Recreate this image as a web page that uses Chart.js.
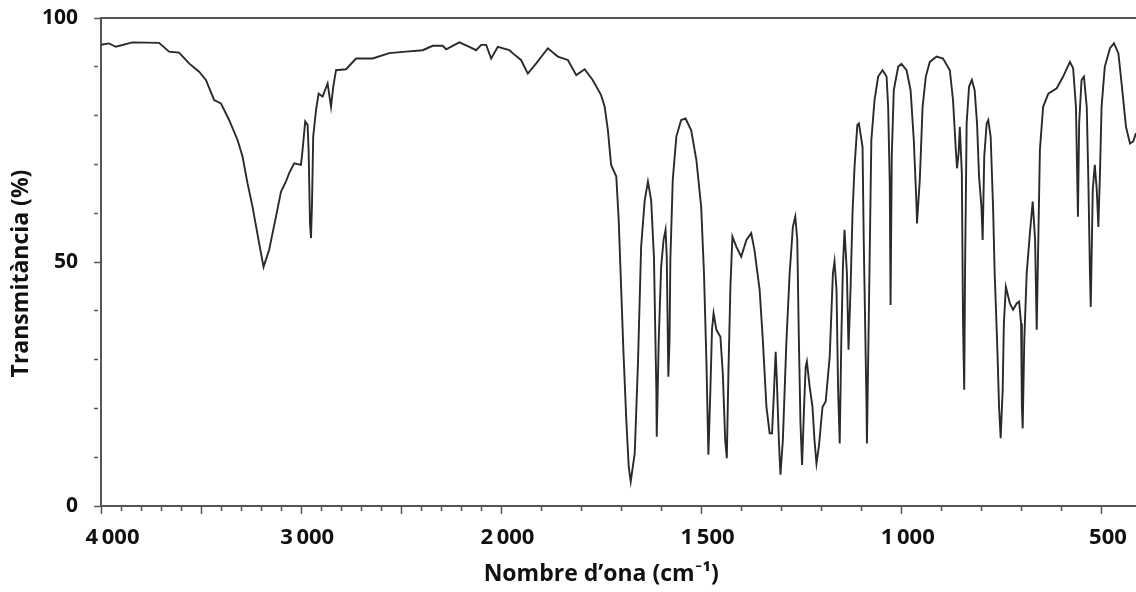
<!DOCTYPE html>
<html>
<head>
<meta charset="utf-8">
<script src="https://cdn.jsdelivr.net/npm/chart.js@4.4.1/dist/chart.umd.min.js"></script>
<style>
  html, body { margin: 0; padding: 0; background: #fff; }
  #irChart { display: block; }
</style>
</head>
<body>
<canvas id="irChart" width="1136" height="592"></canvas>
<script>
// IR spectrum: wavenumber (cm-1) and transmittance (%)
var wavenumbers = [
  4000, 3960, 3926, 3843, 3710, 3660, 3610, 3560, 3510, 3476, 3435, 3401, 3360, 3318, 3293, 3268,
  3243, 3210, 3188, 3160, 3126, 3101, 3076, 3060, 3035, 3001, 2993, 2980, 2968, 2963, 2956, 2951,
  2946, 2940, 2926, 2913, 2893, 2868, 2851, 2840, 2826, 2776, 2726, 2643, 2560, 2476, 2393, 2343,
  2293, 2276, 2210, 2160, 2126, 2101, 2076, 2051, 2018, 1980, 1972, 1951, 1934, 1913, 1884, 1859,
  1834, 1813, 1792, 1772, 1751, 1742, 1734, 1726, 1713, 1707, 1701, 1695, 1688, 1682, 1677, 1667,
  1659, 1651, 1642, 1634, 1626, 1619, 1613, 1612, 1607, 1601, 1595, 1590, 1587, 1583, 1580, 1578,
  1572, 1563, 1551, 1540, 1526, 1513, 1501, 1494, 1488, 1483, 1478, 1474, 1470, 1463, 1453, 1447,
  1441, 1437, 1433, 1428, 1423, 1413, 1401, 1388, 1376, 1368, 1355, 1347, 1338, 1330, 1324, 1319,
  1315, 1312, 1307, 1303, 1297, 1288, 1280, 1272, 1266, 1261, 1257, 1253, 1249, 1244, 1240, 1237,
  1230, 1223, 1218, 1213, 1207, 1198, 1190, 1180, 1172, 1168, 1163, 1159, 1155, 1151, 1147, 1143,
  1137, 1133, 1128, 1123, 1118, 1111, 1107, 1098, 1095, 1088, 1087, 1082, 1076, 1068, 1059, 1048,
  1038, 1034, 1030, 1028, 1025, 1020, 1009, 1001, 988, 978, 970, 963, 962, 955, 948, 940,
  930, 913, 897, 880, 872, 865, 862, 858, 855, 850, 847, 844, 842, 838, 832, 825,
  818, 812, 807, 801, 798, 794, 788, 784, 778, 772, 768, 762, 757, 753, 748, 745,
  740, 730, 722, 713, 707, 702, 700, 698, 694, 688, 680, 673, 667, 663, 659, 655,
  647, 634, 613, 597, 580, 572, 565, 560, 557, 551, 545, 538, 534, 530, 528, 523,
  518, 513, 509, 505, 501, 493, 480, 470, 459, 451, 440, 430, 422, 415
];
var transmittance = [
  94.5, 94.8, 94.1, 95.0, 94.9, 93.1, 92.9, 90.7, 89.0, 87.3, 83.2, 82.5, 79.1, 75.0, 71.6, 66.1,
  61.3, 53.8, 49.0, 52.5, 59.3, 64.4, 66.5, 68.2, 70.2, 69.9, 73.0, 78.8, 78.1, 73.0, 57.9, 54.9,
  62.0, 75.7, 81.1, 84.5, 83.9, 86.6, 81.8, 85.9, 89.3, 89.5, 91.7, 91.7, 92.8, 93.1, 93.4, 94.3,
  94.3, 93.6, 95.0, 94.1, 93.4, 94.5, 94.5, 91.7, 94.1, 93.4, 92.8, 91.4, 88.6, 90.7, 93.8, 92.1,
  91.4, 88.3, 89.5, 87.3, 84.2, 81.8, 77.0, 69.9, 67.5, 58.6, 44.9, 31.3, 17.6, 8.1, 5.0, 10.8,
  29.0, 53.1, 62.7, 66.5, 62.7, 51.1, 23.8, 14.2, 34.0, 49.0, 54.5, 56.6, 51.1, 26.5, 34.0, 50.4,
  66.8, 75.7, 79.1, 79.4, 77.0, 70.9, 61.3, 47.7, 29.9, 10.5, 23.8, 36.1, 39.5, 36.1, 34.7, 27.2,
  13.5, 9.8, 27.2, 44.9, 55.2, 53.1, 51.1, 54.5, 55.9, 52.5, 44.3, 34.0, 20.3, 14.9, 14.9, 23.8,
  31.6, 25.8, 13.5, 6.4, 13.5, 34.0, 47.7, 57.2, 59.3, 54.5, 34.0, 17.0, 8.4, 20.3, 28.5, 29.6,
  24.4, 20.3, 13.5, 8.7, 12.2, 20.3, 21.4, 30.6, 47.7, 50.1, 44.3, 23.8, 12.8, 34.0, 49.0, 56.6,
  47.7, 32.0, 44.3, 60.0, 69.5, 78.1, 78.4, 73.6, 54.5, 20.3, 12.8, 40.8, 75.0, 83.2, 88.0, 89.3,
  88.0, 81.8, 66.1, 41.2, 71.6, 85.2, 90.0, 90.6, 89.3, 85.2, 75.0, 61.3, 57.9, 66.8, 81.8, 88.0,
  91.0, 92.1, 91.7, 89.3, 83.2, 73.0, 69.2, 72.3, 77.7, 68.2, 37.4, 23.8, 47.7, 78.4, 85.9, 87.3,
  85.2, 78.4, 67.5, 61.3, 54.5, 71.6, 78.4, 79.1, 75.7, 61.3, 47.7, 34.0, 20.3, 13.9, 23.8, 37.4,
  44.9, 41.5, 40.2, 41.5, 41.9, 37.4, 20.3, 15.9, 34.0, 47.7, 55.9, 62.4, 54.5, 36.1, 54.5, 73.0,
  81.8, 84.5, 85.6, 88.0, 91.0, 89.7, 81.8, 59.3, 78.4, 87.3, 88.0, 81.8, 66.8, 47.7, 40.8, 64.8,
  69.9, 64.8, 57.2, 68.2, 81.8, 90.0, 93.8, 94.8, 92.8, 86.6, 77.7, 74.3, 74.7, 76.4
];

// tick marks every 100 cm-1, labels only on these
var xTickWn = [];
for (var w = 4000; w >= 500; w -= 100) xTickWn.push(w);
var xLabelWn = [4000, 3000, 2000, 1500, 1000, 500];
var xLabelText = ["\u20024\u2009000", "3\u2009000", "2\u2009000", "1\u2009500", "1\u2009000", "500"];

var yTickVals = [0, 10, 20, 30, 40, 50, 60, 70, 80, 90, 100];
var yLabelVals = [0, 50, 100];

var xEnd = 415;

// the axis is split at 2000 cm-1: above it 100 cm-1 takes half the width
function axisPos(wn) {
  return wn >= 2000 ? (4000 - wn) / 2 : 1000 + (2000 - wn);
}

var points = wavenumbers.map(function (wn, i) {
  return { x: axisPos(wn), y: transmittance[i] };
});

var axisColor = "#555";
var textColor = "#111";
var fontFamily = "'Open Sans', Lato, sans-serif";

new Chart(document.getElementById("irChart").getContext("2d"), {
  type: "line",
  data: {
    datasets: [
      {
        label: "Transmitància",
        data: points,
        borderColor: "#2a2a2a",
        borderWidth: 1.9,
        pointRadius: 0,
        tension: 0,
        fill: false,
      },
    ],
  },
  options: {
    responsive: false,
    animation: false,
    devicePixelRatio: 1,
    layout: { padding: { top: 18, right: 0, left: 0, bottom: 0 } },
    plugins: { legend: { display: false }, tooltip: { enabled: false } },
    scales: {
      x: {
        type: "linear",
        position: "bottom",
        min: 0,
        max: axisPos(xEnd),
        afterBuildTicks: function (scale) {
          scale.ticks = xTickWn.map(function (wn) { return { value: axisPos(wn) }; });
        },
        afterFit: function (scale) {
          scale.height = 86;
          scale.paddingLeft = 0;
          scale.paddingRight = 0;
        },
        border: { display: true, color: axisColor, width: 2 },
        grid: {
          drawOnChartArea: false,
          drawTicks: true,
          tickLength: 8,
          tickColor: axisColor,
          tickWidth: 1.5,
          tickBorderDash: function (ctx) {
            var wn = xTickWn[ctx.index];
            return wn % 500 === 0 ? [] : [4, 20];
          },
        },
        ticks: {
          autoSkip: false,
          maxRotation: 0,
          padding: 11,
          labelOffset: 6,
          color: textColor,
          font: { family: fontFamily, size: 22, weight: "bold" },
          callback: function (value, index) {
            var k = xLabelWn.indexOf(xTickWn[index]);
            return k >= 0 ? xLabelText[k] : "";
          },
        },
        title: {
          display: true,
          text: "Nombre d\u2019ona (cm\u207B\u00B9)\u2003\u2002",
          color: textColor,
          font: { family: fontFamily, size: 23, weight: "bold" },
          padding: { top: 0, bottom: 4 },
        },
      },
      xTop: {
        type: "linear",
        position: "top",
        min: 0,
        max: axisPos(xEnd),
        afterFit: function (scale) { scale.height = 0; },
        border: { display: true, color: axisColor, width: 2 },
        grid: { display: false, drawTicks: false },
        ticks: { display: false },
      },
      y: {
        type: "linear",
        position: "left",
        min: 0,
        max: 100,
        afterBuildTicks: function (scale) {
          scale.ticks = yTickVals.map(function (v) { return { value: v }; });
        },
        afterFit: function (scale) {
          scale.width = 101;
          scale.paddingTop = 0;
          scale.paddingBottom = 0;
        },
        border: { display: true, color: axisColor, width: 2 },
        grid: {
          drawOnChartArea: false,
          drawTicks: true,
          tickLength: 7,
          tickColor: axisColor,
          tickWidth: 1.5,
          tickBorderDash: function (ctx) {
            return yLabelVals.indexOf(yTickVals[ctx.index]) >= 0 ? [] : [4, 20];
          },
        },
        ticks: {
          autoSkip: false,
          padding: 16,
          color: textColor,
          font: { family: fontFamily, size: 21, weight: "bold" },
          callback: function (value) {
            return yLabelVals.indexOf(value) >= 0 ? String(value) : "";
          },
        },
        title: {
          display: true,
          text: "Transmitància (%)\u2003",
          color: textColor,
          font: { family: fontFamily, size: 23, weight: "bold" },
          padding: { top: 8, bottom: 0 },
        },
      },
    },
  },
});
</script>
</body>
</html>
